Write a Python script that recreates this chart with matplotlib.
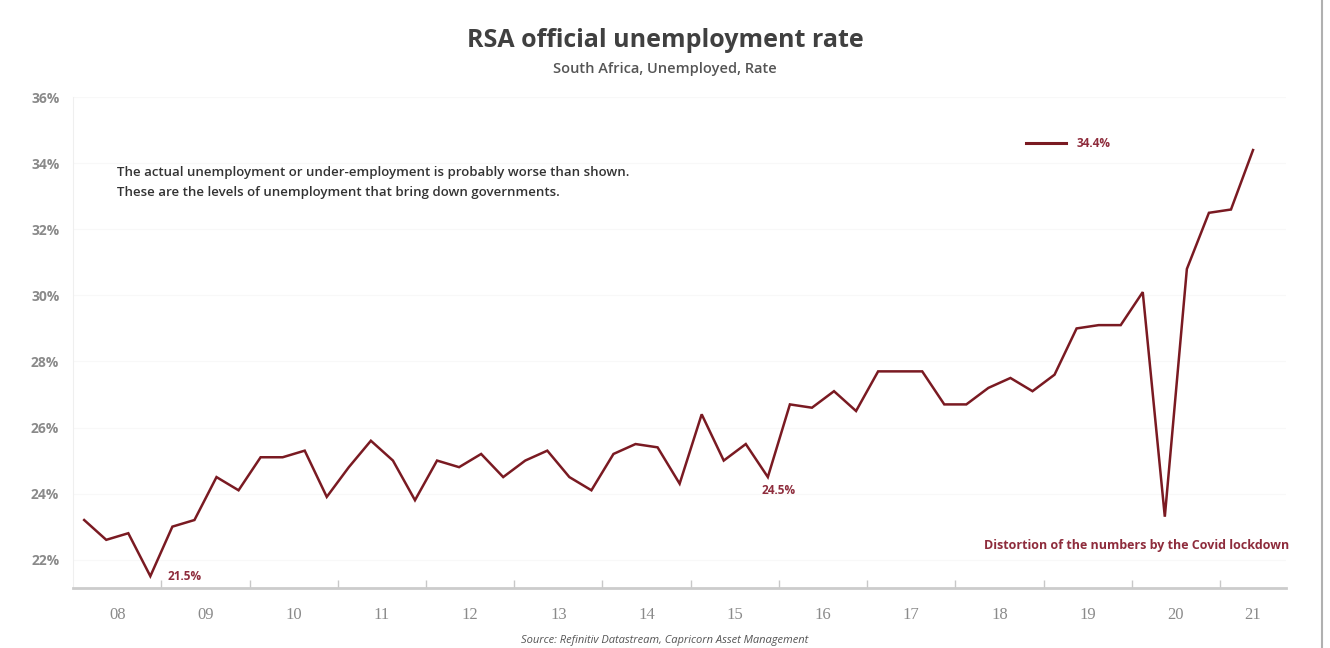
import numpy as np
import matplotlib.pyplot as plt
from matplotlib.lines import Line2D

# quarterly data, 2008Q1 .. 2021Q2
quarters = [f"{y}Q{q}" for y in range(2008, 2022) for q in range(1, 5)][:54]
rate = [23.2, 22.6, 22.8, 21.5,
        23.0, 23.2, 24.5, 24.1,
        25.1, 25.1, 25.3, 23.9,
        24.8, 25.6, 25.0, 23.8,
        25.0, 24.8, 25.2, 24.5,
        25.0, 25.3, 24.5, 24.1,
        25.2, 25.5, 25.4, 24.3,
        26.4, 25.0, 25.5, 24.5,
        26.7, 26.6, 27.1, 26.5,
        27.7, 27.7, 27.7, 26.7,
        26.7, 27.2, 27.5, 27.1,
        27.6, 29.0, 29.1, 29.1,
        30.1, 23.3, 30.8, 32.5,
        32.6, 34.4]
year_labels = ["08", "09", "10", "11", "12", "13", "14", "15", "16", "17", "18", "19", "20", "21"]
y_ticks = [22, 24, 26, 28, 30, 32, 34, 36]

line_col = "#7a1a22"
note_col = "#8e2c3c"
grey = "#8a8a8a"
sans = "Open Sans"

fig = plt.figure(figsize=(13.3, 6.48), dpi=100)
ax = fig.add_axes([0.055, 0.093, 0.912, 0.757])

x = np.arange(len(rate))
ax.plot(x, rate, color=line_col, lw=1.8, solid_joinstyle="miter")

ax.set_xlim(-0.5, 54.5)
ax.set_ylim(21.15, 36)
ax.set_yticks(y_ticks)
ax.set_yticklabels([f"{v}%" for v in y_ticks], fontsize=10, fontweight="bold",
                   color=grey, family=sans)
ax.tick_params(axis="y", length=0, pad=10)

# year boundaries as ticks, labels centred in each year
ax.set_xticks(np.arange(3.5, 52, 4))
ax.set_xticklabels([])
ax.tick_params(axis="x", direction="in", length=6, color="#c8c8c8", width=1)
for i, lab in enumerate(year_labels):
    start = -0.5 + 4 * i
    end = min(start + 4, 54.5)
    ax.text((start + end) / 2, -0.04, lab, transform=ax.get_xaxis_transform(),
            ha="center", va="top", fontsize=12, color=grey, family="Liberation Serif")

ax.grid(axis="y", color="#f8f8f8", lw=0.8)
ax.set_axisbelow(True)
for s in ["top", "right"]:
    ax.spines[s].set_visible(False)
ax.spines["left"].set_color("#efefef")
ax.spines["bottom"].set_color("#cccccc")
ax.spines["bottom"].set_linewidth(2)

# annotations
ax.text(3.8, 21.5, "21.5%", fontsize=8.5, fontweight="bold", color=note_col,
        family=sans, va="center")
ax.text(30.7, 24.1, "24.5%", fontsize=8.5, fontweight="bold", color=note_col,
        family=sans, va="center")
ax.text(47.7, 22.42, "Distortion of the numbers by the Covid lockdown", fontsize=9,
        fontweight="bold", color=note_col, family=sans, ha="center", va="center")
ax.text(1.5, 33.73, "The actual unemployment or under-employment is probably worse than shown.",
        fontsize=9.5, fontweight="semibold", color="#333333", family=sans, va="center")
ax.text(1.5, 33.1, "These are the levels of unemployment that bring down governments.",
        fontsize=9.5, fontweight="semibold", color="#333333", family=sans, va="center")

# legend-like marker
ax.plot([42.7, 44.5], [34.6, 34.6], color=line_col, lw=2.2)
ax.text(45.0, 34.6, "34.4%", fontsize=8.5, fontweight="bold", color=note_col,
        family=sans, va="center")

fig.text(0.5, 0.937, "RSA official unemployment rate", ha="center", va="center",
         fontsize=18, fontweight="bold", color="#404040", family=sans)
fig.text(0.5, 0.893, "South Africa, Unemployed, Rate", ha="center", va="center",
         fontsize=10.5, fontweight="semibold", color="#555555", family=sans)
fig.text(0.5, 0.003, "Source: Refinitiv Datastream, Capricorn Asset Management", ha="center",
         va="bottom", fontsize=8, style="italic", color="#555555", family=sans)

fig.add_artist(Line2D([0.994, 0.994], [0.0, 1.0], transform=fig.transFigure,
                      color="#b0b0b0", lw=1.5))

fig.savefig("out.png", dpi=100)
